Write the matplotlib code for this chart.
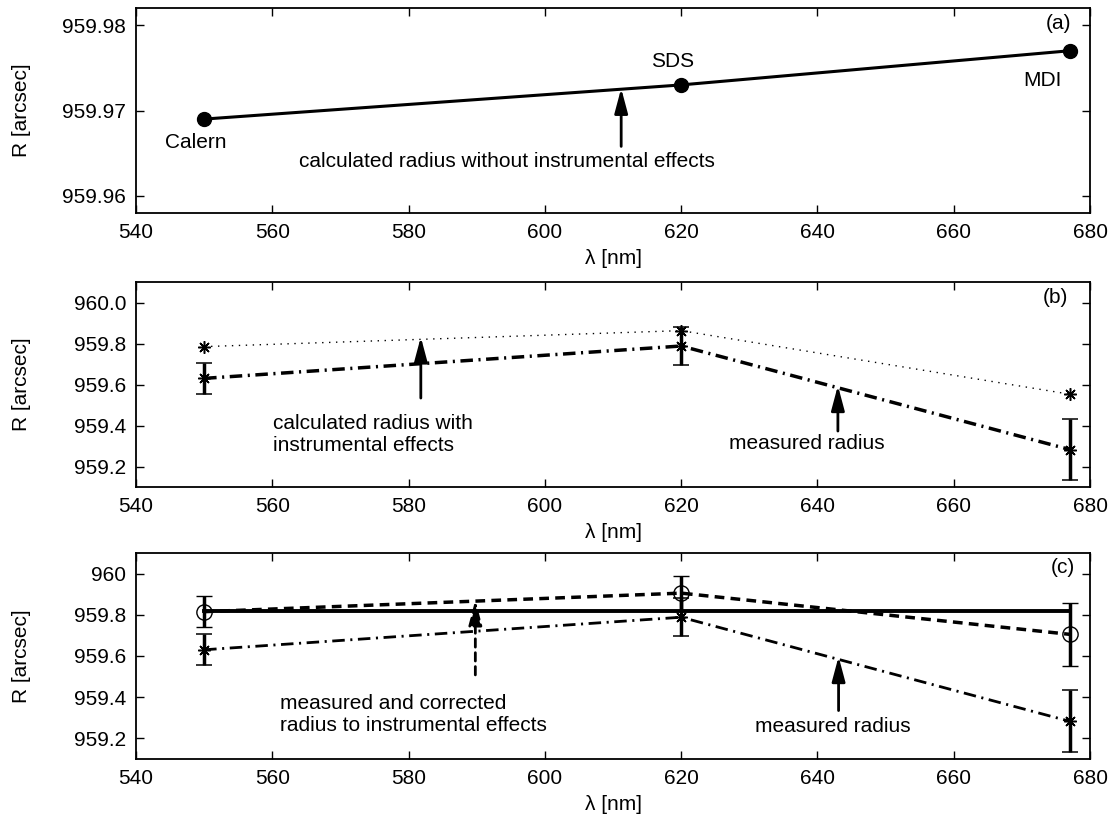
import matplotlib.pyplot as plt
import numpy as np

plt.rcParams["font.family"] = ["Liberation Sans", "DejaVu Sans"]
plt.rcParams["font.size"] = 15
plt.rcParams["lines.scale_dashes"] = False

# wavelengths of the three instruments (Calern, SDS, MDI)
wavelength = [550, 620, 677]
instruments = ["Calern", "SDS", "MDI"]

# (a) calculated radius without instrumental effects
r_calc_clean = [959.969, 959.973, 959.977]

# (b) calculated radius with instrumental effects, and measured radius
r_calc_instr = [959.785, 959.863, 959.553]
r_measured = [959.630, 959.788, 959.283]
r_measured_err = [0.076, 0.092, 0.150]

# (c) measured radius corrected for instrumental effects
r_corrected = [959.815, 959.905, 959.705]
r_corrected_err = [0.075, 0.085, 0.152]
r_corrected_mean = 959.818

ASTERISK = (8, 2, 0)
DASHDOT = (0, (9, 4, 1.5, 4))
DASHED = (0, (7, 4.5))


def _style(ax):
    ax.set_xlim(540, 680)
    ax.set_xticks(np.arange(540, 681, 20))
    ax.tick_params(direction="in", top=True, right=True, length=6, width=1.0, pad=7)
    for sp in ax.spines.values():
        sp.set_linewidth(1.3)
    ax.set_xlabel("λ [nm]", labelpad=5)
    ax.set_ylabel("R [arcsec]")
    # same x position for all three y labels, whatever the tick label width
    ax.yaxis.set_label_coords(-0.110, 0.5)


def _arrow(ax, x, y0, y1, ls="-"):
    ax.annotate(
        "",
        xy=(x, y1),
        xytext=(x, y0),
        arrowprops=dict(arrowstyle="-|>,head_length=0.75,head_width=0.2", mutation_scale=20,
                        lw=2.0, color="k", shrinkA=0, shrinkB=0, linestyle=ls),
    )


fig = plt.figure(figsize=(11.08, 8.14), dpi=100)
ax_a = fig.add_axes([0.1227, 0.7383, 0.8611, 0.2518])
ax_b = fig.add_axes([0.1227, 0.4017, 0.8611, 0.2518])
ax_c = fig.add_axes([0.1227, 0.0676, 0.8611, 0.2531])

# panel (a)
ax_a.plot(wavelength, r_calc_clean, color="k", lw=2.2, marker="o", markersize=10)
ax_a.set_ylim(959.958, 959.982)
ax_a.set_yticks([959.96, 959.97, 959.98])
ax_a.set_yticklabels(["959.96", "959.97", "959.98"])
ax_a.text(548.8, 959.9663, instruments[0], ha="center", va="center")
ax_a.text(618.7, 959.9758, instruments[1], ha="center", va="center")
ax_a.text(673.0, 959.9735, instruments[2], ha="center", va="center")
_arrow(ax_a, 611.2, 959.9658, 959.9726)
ax_a.text(594.4, 959.9640, "calculated radius without instrumental effects", ha="center", va="center")
ax_a.text(675.3, 959.9802, "(a)", ha="center", va="center")
_style(ax_a)

# panel (b)
ax_b.plot(wavelength, r_calc_instr, color="k", lw=1.0, linestyle=(0, (1, 4)),
          marker=ASTERISK, markersize=9, markeredgewidth=1.1)
ax_b.errorbar(wavelength, r_measured, yerr=r_measured_err, color="k", lw=2.5, linestyle=DASHDOT,
              marker=ASTERISK, markersize=9, markeredgewidth=1.1,
              elinewidth=2.5, capsize=6, capthick=2.5)
ax_b.set_ylim(959.1, 960.1)
ax_b.set_yticks([959.2, 959.4, 959.6, 959.8, 960.0])
ax_b.set_yticklabels(["959.2", "959.4", "959.6", "959.8", "960.0"])
_arrow(ax_b, 581.8, 959.534, 959.832)
ax_b.text(560.1, 959.356, "calculated radius with\ninstrumental effects", ha="left", va="center",
          linespacing=1.25)
_arrow(ax_b, 643.0, 959.373, 959.595)
ax_b.text(638.5, 959.310, "measured radius", ha="center", va="center")
ax_b.text(674.9, 960.027, "(b)", ha="center", va="center")
_style(ax_b)

# panel (c)
ax_c.errorbar(wavelength, r_measured, yerr=r_measured_err, color="k", lw=2.0, linestyle=DASHDOT,
              marker=ASTERISK, markersize=9, markeredgewidth=1.1,
              elinewidth=2.5, capsize=6, capthick=2.5)
ax_c.errorbar(wavelength, r_corrected, yerr=r_corrected_err, color="k", lw=2.5, linestyle=DASHED,
              marker="o", markersize=11, markerfacecolor="none", markeredgewidth=1.0,
              elinewidth=2.5, capsize=6, capthick=2.5)
ax_c.plot([wavelength[0], wavelength[-1]], [r_corrected_mean, r_corrected_mean], color="k", lw=2.8)
ax_c.set_ylim(959.1, 960.1)
ax_c.set_yticks([959.2, 959.4, 959.6, 959.8, 960.0])
ax_c.set_yticklabels(["959.2", "959.4", "959.6", "959.8", "960"])
_arrow(ax_c, 589.8, 959.508, 959.872, ls=(0, (6, 4)))
ax_c.text(561.1, 959.316, "measured and corrected\nradius to instrumental effects", ha="left",
          va="center", linespacing=1.25)
_arrow(ax_c, 643.1, 959.335, 959.597)
ax_c.text(642.3, 959.257, "measured radius", ha="center", va="center")
ax_c.text(676.0, 960.030, "(c)", ha="center", va="center")
_style(ax_c)

fig.savefig("out.png", dpi=100)
